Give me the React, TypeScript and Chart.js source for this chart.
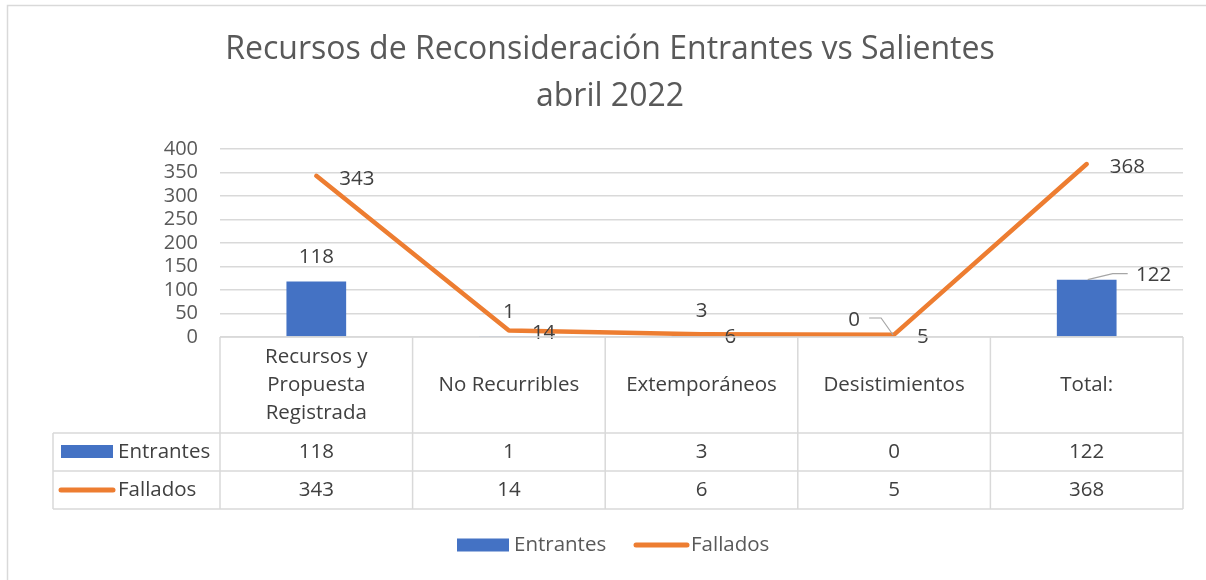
import React, { useEffect, useRef } from 'react';
import { Chart, registerables } from 'chart.js';

Chart.register(...registerables);

const TITLE_LINES = ['Recursos de Reconsideración Entrantes vs Salientes', 'abril 2022'];
const CATEGORIES: string[][] = [
  ['Recursos y', 'Propuesta', 'Registrada'],
  ['No Recurribles'],
  ['Extemporáneos'],
  ['Desistimientos'],
  ['Total:'],
];
const SERIES_NAMES = ['Entrantes', 'Fallados'];
const ENTRANTES = [118, 1, 3, 0, 122];
const FALLADOS = [343, 14, 6, 5, 368];
const Y_MIN = 0;
const Y_MAX = 400;
const Y_STEP = 50;

const FONT = '"Open Sans", "Noto Sans", sans-serif';
const BLUE = '#4472C4';
const ORANGE = '#ED7D31';
const GRID = '#d9d9d9';
const LABEL_COLOR = '#404040';
const TICK_COLOR = '#595959';
const TEXT_SIZE = 20.5;

// label placement for the bar series (Excel moved two of them and added leader lines)
const BAR_LABEL_MODE = ['above', 'above', 'above', 'leftLeader', 'rightLeader'];

const decorPlugin = {
  id: 'excelDecor',
  afterDraw(chart: any) {
    const { ctx, chartArea, scales } = chart;
    const xs = scales.x;
    const ys = scales.y;
    const n = CATEGORIES.length;
    const step = (chartArea.right - chartArea.left) / n;
    ctx.save();

    // outer frame
    ctx.strokeStyle = GRID;
    ctx.lineWidth = 1.5;
    ctx.strokeRect(7.5, 5.5, 1500, 900);

    // title
    ctx.fillStyle = TICK_COLOR;
    ctx.font = `32px ${FONT}`;
    ctx.textAlign = 'center';
    ctx.textBaseline = 'middle';
    TITLE_LINES.forEach((t, i) => ctx.fillText(t, 610, 50 + i * 47));

    // data labels
    ctx.font = `${TEXT_SIZE}px ${FONT}`;
    ctx.fillStyle = LABEL_COLOR;
    const barMeta = chart.getDatasetMeta(0);
    barMeta.data.forEach((el: any, i: number) => {
      const txt = String(ENTRANTES[i]);
      const mode = BAR_LABEL_MODE[i];
      if (mode === 'above') {
        ctx.textAlign = 'center';
        ctx.fillText(txt, el.x, el.y - 24);
      } else if (mode === 'leftLeader') {
        ctx.strokeStyle = '#a6a6a6';
        ctx.lineWidth = 1.2;
        ctx.beginPath();
        ctx.moveTo(el.x - 25, el.y - 19);
        ctx.lineTo(el.x - 13, el.y - 19);
        ctx.lineTo(el.x - 1, el.y - 2);
        ctx.stroke();
        ctx.textAlign = 'center';
        ctx.fillText(txt, el.x - 40, el.y - 17);
      } else {
        ctx.strokeStyle = '#a6a6a6';
        ctx.lineWidth = 1.2;
        ctx.beginPath();
        ctx.moveTo(el.x + 1, el.y);
        ctx.lineTo(el.x + 26, el.y - 6);
        ctx.lineTo(el.x + 41, el.y - 6);
        ctx.stroke();
        ctx.textAlign = 'center';
        ctx.fillText(txt, el.x + 67, el.y - 5);
      }
    });
    const lineMeta = chart.getDatasetMeta(1);
    lineMeta.data.forEach((el: any, i: number) => {
      ctx.textAlign = 'left';
      ctx.fillText(String(FALLADOS[i]), el.x + 23, el.y + 3);
    });

    // data table
    const top = ys.getPixelForValue(Y_MIN);
    const hdrBottom = 433;
    const row1Bottom = 471;
    const row2Bottom = 509;
    const tableLeft = 53;
    ctx.strokeStyle = GRID;
    ctx.lineWidth = 1.5;
    ctx.beginPath();
    ctx.moveTo(chartArea.left, top);
    ctx.lineTo(chartArea.right, top);
    [hdrBottom, row1Bottom, row2Bottom].forEach((y) => {
      ctx.moveTo(tableLeft, y);
      ctx.lineTo(chartArea.right, y);
    });
    for (let i = 0; i <= n; i++) {
      const x = chartArea.left + i * step;
      ctx.moveTo(x, top);
      ctx.lineTo(x, row2Bottom);
    }
    ctx.moveTo(tableLeft, hdrBottom);
    ctx.lineTo(tableLeft, row2Bottom);
    ctx.stroke();

    ctx.fillStyle = LABEL_COLOR;
    ctx.textAlign = 'center';
    ctx.textBaseline = 'middle';
    const hdrMid = (top + hdrBottom) / 2;
    const r1Mid = (hdrBottom + row1Bottom) / 2;
    const r2Mid = (row1Bottom + row2Bottom) / 2;
    CATEGORIES.forEach((lines, i) => {
      const cx = xs.getPixelForValue(i);
      const lh = 28;
      const start = hdrMid - ((lines.length - 1) * lh) / 2;
      lines.forEach((l, j) => ctx.fillText(l, cx, start + j * lh));
      ctx.fillText(String(ENTRANTES[i]), cx, r1Mid);
      ctx.fillText(String(FALLADOS[i]), cx, r2Mid);
    });

    // legend keys in the table
    ctx.fillStyle = BLUE;
    ctx.fillRect(61, r1Mid - 7, 52, 13);
    ctx.strokeStyle = ORANGE;
    ctx.lineWidth = 5;
    ctx.lineCap = 'round';
    ctx.beginPath();
    ctx.moveTo(61, r2Mid);
    ctx.lineTo(113, r2Mid);
    ctx.stroke();
    ctx.fillStyle = LABEL_COLOR;
    ctx.textAlign = 'left';
    ctx.fillText(SERIES_NAMES[0], 118, r1Mid);
    ctx.fillText(SERIES_NAMES[1], 118, r2Mid);

    // bottom legend
    const ly = 545;
    ctx.fillStyle = BLUE;
    ctx.fillRect(457, ly - 6.5, 52, 13);
    ctx.strokeStyle = ORANGE;
    ctx.beginPath();
    ctx.moveTo(636, ly);
    ctx.lineTo(687, ly);
    ctx.stroke();
    ctx.fillStyle = TICK_COLOR;
    ctx.fillText(SERIES_NAMES[0], 514, ly);
    ctx.fillText(SERIES_NAMES[1], 691, ly);

    ctx.restore();
  },
};

export default function App() {
  const ref = useRef<HTMLCanvasElement>(null);
  useEffect(() => {
    if (!ref.current) return;
    const chart = new Chart(ref.current, {
      type: 'bar',
      data: {
        labels: CATEGORIES.map((c) => c.join(' ')),
        datasets: [
          {
            type: 'bar',
            label: SERIES_NAMES[0],
            data: ENTRANTES,
            backgroundColor: BLUE,
            barPercentage: 0.31,
            categoryPercentage: 1,
            order: 1,
          },
          {
            type: 'line',
            label: SERIES_NAMES[1],
            data: FALLADOS,
            borderColor: ORANGE,
            backgroundColor: ORANGE,
            borderWidth: 4.5,
            pointRadius: 0,
            borderCapStyle: 'round',
            borderJoinStyle: 'round',
            tension: 0,
            order: 0,
          },
        ],
      } as any,
      options: {
        responsive: false,
        animation: false,
        devicePixelRatio: 1,
        layout: { padding: { left: 0, top: 149, right: 23, bottom: 243 } },
        plugins: {
          legend: { display: false },
          tooltip: { enabled: false },
          title: { display: false },
        },
        scales: {
          x: { display: false },
          y: {
            min: Y_MIN,
            max: Y_MAX,
            ticks: {
              stepSize: Y_STEP,
              autoSkip: false,
              color: TICK_COLOR,
              font: { family: FONT, size: 20 },
              padding: 22,
            },
            grid: { color: GRID, lineWidth: 1.5, drawTicks: false },
            border: { display: false },
            afterFit: (s: any) => {
              s.width = 220;
            },
          },
        },
      } as any,
      plugins: [decorPlugin],
    });
    return () => chart.destroy();
  }, []);
  return (
    <div style={{ position: 'absolute', left: 0, top: 0, width: 1206, height: 580, background: '#fff' }}>
      <canvas ref={ref} width={1206} height={580} />
    </div>
  );
}
